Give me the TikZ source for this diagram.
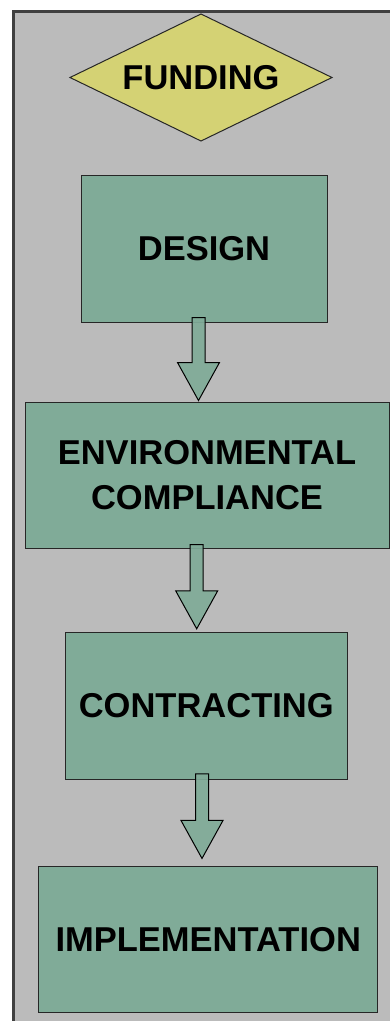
\documentclass[tikz,border=0pt]{standalone}
\usepackage{fontspec}
\setmainfont{Liberation Sans}
\usetikzlibrary{shapes.geometric,calc}
\definecolor{bggray}{RGB}{187,187,187}
\definecolor{framegray}{RGB}{64,64,64}
\definecolor{boxgreen}{RGB}{128,171,152}
\definecolor{diayellow}{RGB}{212,210,116}
\tikzset{
  stepbox/.style={draw=black!85, line width=1pt, fill=boxgreen, rectangle, inner sep=0pt,
    font=\fontsize{34.5}{44.5}\selectfont\bfseries, align=center},
  decisionbox/.style={draw=black!85, line width=1pt, fill=diayellow, diamond, inner sep=0pt,
    aspect=2.063, outer sep=0pt, font=\fontsize{34.5}{40}\selectfont\bfseries},
  blockarrow/.style={draw=black, line width=1pt, fill=boxgreen, fill opacity=0.92, line join=miter}
}
\newcommand\blkarrow[5]{%
  \path[blockarrow] let \p1=(#2.south), \p2=(#4.north) in
   (#1-6.5pt,\y1+#3) -- (#1+6.5pt,\y1+#3) -- (#1+6.5pt,\y2+#5+38pt)
   -- (#1+21pt,\y2+#5+38pt) -- (#1,\y2+#5) -- (#1-21pt,\y2+#5+38pt)
   -- (#1-6.5pt,\y2+#5+38pt) -- cycle;}
\begin{document}
\begin{tikzpicture}[x=1pt,y=-1pt]
\useasboundingbox (0,0) rectangle (390,1021);
\fill[bggray] (13,11) rectangle (400,1030);
\draw[framegray, line width=3pt] (13,1030) -- (13,11) -- (400,11);

\node[decisionbox, minimum width=262pt, minimum height=127pt] (funding) at (201,77.5) {FUNDING};
\node[stepbox, minimum width=246pt, minimum height=147pt] (design) at (204,248.5) {DESIGN};
\node[stepbox, minimum width=364pt, minimum height=146pt] (env) at (207,475) {ENVIRONMENTAL\\COMPLIANCE};
\node[stepbox, minimum width=282.5pt, minimum height=147pt] (contract) at (206.25,705.8) {CONTRACTING};
\node[stepbox, minimum width=339pt, minimum height=146.3pt] (impl) at (208.2,939.8) {IMPLEMENTATION};

\blkarrow{198.5pt}{design}{5pt}{env}{1pt}
\blkarrow{196.7pt}{env}{4pt}{contract}{3pt}
\blkarrow{202pt}{contract}{6pt}{impl}{7.7pt}
\end{tikzpicture}
\end{document}
